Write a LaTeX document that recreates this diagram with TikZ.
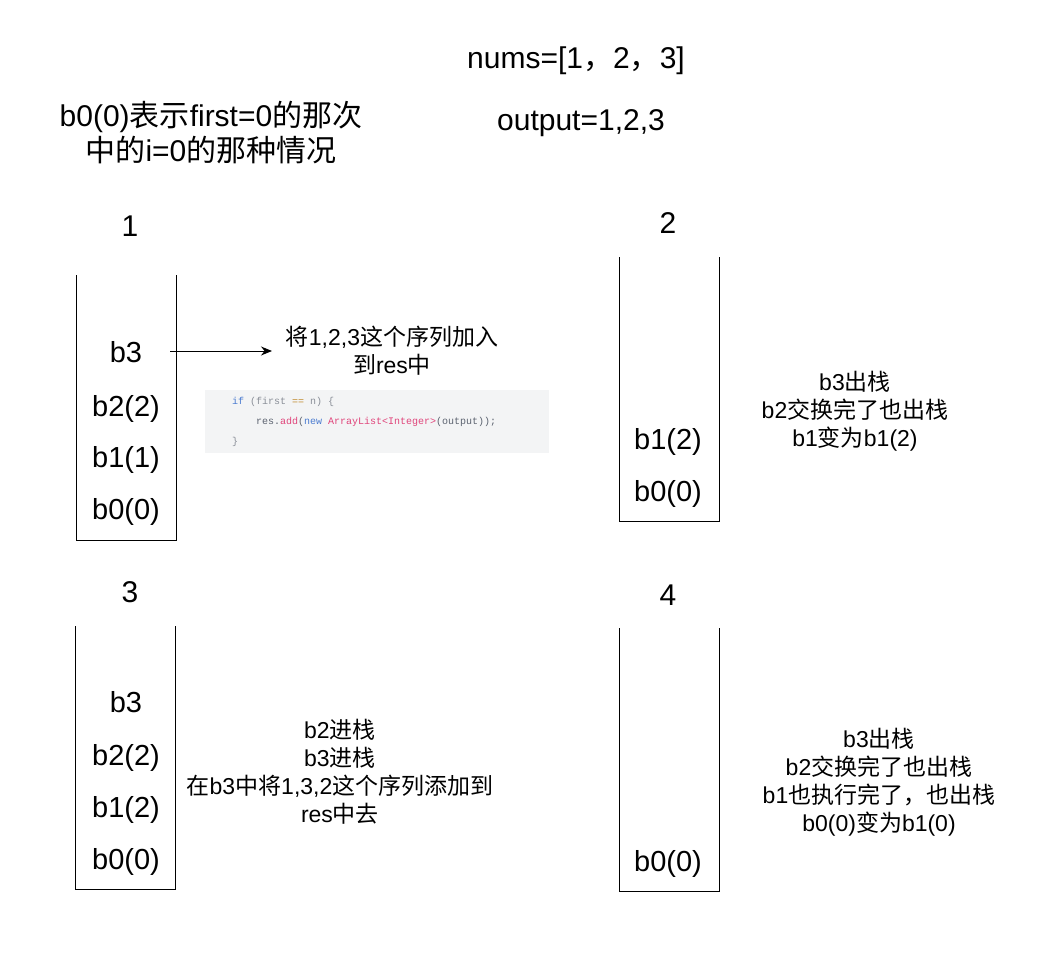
\documentclass[tikz,border=0pt]{standalone}
\usepackage{fontspec}
\setmainfont{Liberation Sans}
\newfontfamily\cjk{Noto Sans CJK SC}
\newfontfamily\codefont{Liberation Mono}
\usetikzlibrary{arrows.meta}
\newcommand\zh[1]{{\cjk #1}}
\definecolor{codebg}{HTML}{F3F4F5}
\definecolor{kwblue}{HTML}{4A7BD0}
\definecolor{kwpink}{HTML}{E0457B}
\definecolor{kwgray}{HTML}{8A8F98}
\definecolor{kwdark}{HTML}{5C6370}
\definecolor{kworange}{HTML}{C08B30}
\begin{document}
\begin{tikzpicture}[x=1pt,y=-1pt,
  big/.style={inner sep=0pt,align=center,font=\fontsize{30}{35}\selectfont},
  item/.style={inner sep=0pt,font=\fontsize{29}{34}\selectfont},
  small/.style={inner sep=0pt,align=center,font=\fontsize{23}{28}\selectfont},
  codeline/.style={inner sep=0pt,anchor=west,font=\codefont\fontsize{10}{12}\selectfont},
  stackline/.style={draw=black,line width=1pt},
  conn/.style={draw=black,line width=1pt,-{Stealth[length=11pt,width=9pt]}}]
\useasboundingbox (0,0) rectangle (1045,955);

% top texts
\node[big] (nums) at (576,61) {nums=[1\zh{，}2\zh{，}3]};
\node[big] (out) at (581,123) {output=1,2,3};
\node[big] (note) at (211,133) {b0(0)\zh{表示}first=0\zh{的那次}\\\zh{中的}i=0\zh{的那种情况}};

% stack labels
\node[big] (l1) at (130,226) {1};
\node[big] (l2) at (668,223) {2};
\node[big] (l3) at (130,592) {3};
\node[big] (l4) at (668,595) {4};

% stacks
\draw[stackline] (76,275) -- (76,540) -- (176,540) -- (176,275);
\draw[stackline] (619,257) -- (619,521) -- (719,521) -- (719,257);
\draw[stackline] (75,626) -- (75,889) -- (175,889) -- (175,626);
\draw[stackline] (619,628) -- (619,891) -- (719,891) -- (719,628);

% stack 1
\node[item] (s1b3) at (126,352) {b3};
\node[item] (s1b2) at (126,409) {b2(2)};
\node[item] (s1b1) at (126,460) {b1(1)};
\node[item] (s1b0) at (126,512) {b0(0)};
% stack 2
\node[item] (s2b1) at (668,442) {b1(2)};
\node[item] (s2b0) at (668,494) {b0(0)};
% stack 3
\node[item] (s3b3) at (126,702) {b3};
\node[item] (s3b2) at (126,758) {b2(2)};
\node[item] (s3b1) at (126,810) {b1(2)};
\node[item] (s3b0) at (126,862) {b0(0)};
% stack 4
\node[item] (s4b0) at (668,864) {b0(0)};

% arrow and its text
\coordinate (astart) at (170,351);
\node[small] (addres) at (392,351) {\zh{将}1,2,3\zh{这个序列加入}\\\zh{到}res\zh{中}};
\coordinate (aend) at (272,351);
\draw[conn] (astart) -- (aend);

% code snippet
\node[fill=codebg,inner sep=0pt,minimum width=344pt,minimum height=63pt,anchor=north west] (code) at (205,390) {};
\node[codeline] (c1) at (232,402) {\textcolor{kwblue}{if} \textcolor{kwgray}{(first} \textcolor{kworange}{==} \textcolor{kwgray}{n) \{}};
\node[codeline] (c2) at (256,422) {\textcolor{kwdark}{res.}\textcolor{kwpink}{add}\textcolor{kwdark}{(}\textcolor{kwblue}{new} \textcolor{kwpink}{ArrayList<Integer>}\textcolor{kwdark}{(output));}};
\node[codeline] (c3) at (232,442) {\textcolor{kwgray}{\}}};

% explanations
\node[small] (t2) at (855,411) {b3\zh{出栈}\\b2\zh{交换完了也出栈}\\b1\zh{变为}b1(2)};
\node[small] (t3) at (340,772) {b2\zh{进栈}\\b3\zh{进栈}\\\zh{在}b3\zh{中将}1,3,2\zh{这个序列添加到}\\res\zh{中去}};
\node[small] (t4) at (879,782) {b3\zh{出栈}\\b2\zh{交换完了也出栈}\\b1\zh{也执行完了，也出栈}\\b0(0)\zh{变为}b1(0)};
\end{tikzpicture}
\end{document}
